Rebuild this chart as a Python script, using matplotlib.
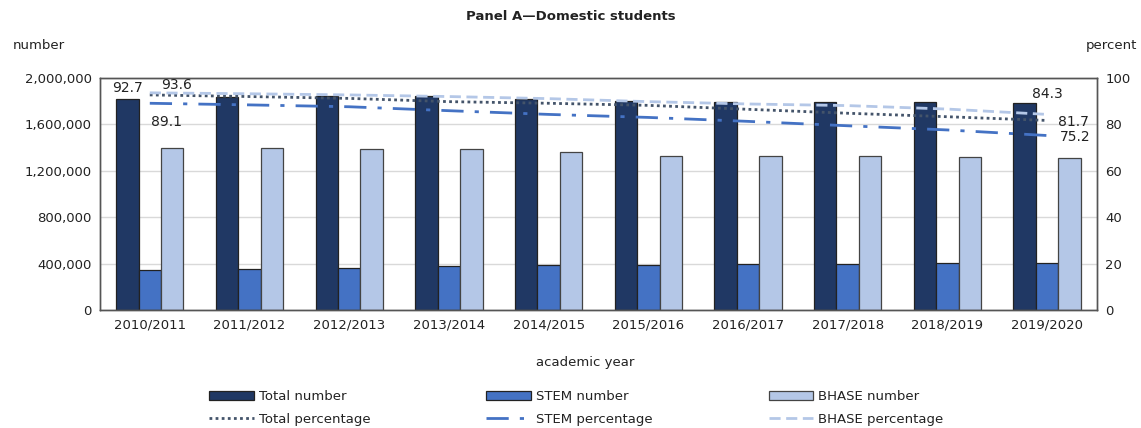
import matplotlib
matplotlib.use("Agg")
import matplotlib.pyplot as plt
import numpy as np
from matplotlib.ticker import FuncFormatter

years = ["2010/2011", "2011/2012", "2012/2013", "2013/2014", "2014/2015",
         "2015/2016", "2016/2017", "2017/2018", "2018/2019", "2019/2020"]
total_number = [1819000, 1833000, 1845000, 1847000, 1819000,
                1799000, 1795000, 1796000, 1789000, 1782000]
stem_number = [343000, 354000, 366000, 377000, 388000,
               388000, 397000, 397000, 408000, 408000]
bhase_number = [1400000, 1400000, 1388000, 1388000, 1359000,
                1330000, 1330000, 1330000, 1319000, 1308000]
total_pct = [92.7, 92.0, 91.2, 89.8, 89.1, 88.2, 86.5, 84.8, 83.3, 81.7]
stem_pct = [89.1, 88.4, 87.6, 85.9, 84.3, 83.0, 81.3, 79.4, 77.6, 75.2]
bhase_pct = [93.6, 93.2, 92.7, 92.0, 91.1, 89.8, 88.8, 88.1, 86.6, 84.3]

c_total = "#203864"
c_stem = "#4472C4"
c_bhase = "#B4C7E7"
c_total_line = "#44546A"
text_c = "#222222"

plt.rcParams['font.family'] = ['DejaVu Sans']
fig = plt.figure(figsize=(11.41, 4.28), dpi=100)
ax = fig.add_axes([0.0876, 0.2757, 0.8738, 0.5421])
ax2 = ax.twinx()

x = np.arange(len(years))
w = 0.225
edge = "#222222"
b1 = ax.bar(x - w, total_number, w, color=c_total, edgecolor=edge, linewidth=0.9, label="Total number", zorder=2)
b2 = ax.bar(x, stem_number, w, color=c_stem, edgecolor=edge, linewidth=0.9, label="STEM number", zorder=2)
b3 = ax.bar(x + w, bhase_number, w, color=c_bhase, edgecolor="#444444", linewidth=0.9, label="BHASE number", zorder=2)

l1, = ax2.plot(x, total_pct, color=c_total_line, linestyle=(0, (1, 1.2)), linewidth=2, label="Total percentage")
l2, = ax2.plot(x, stem_pct, color=c_stem, linestyle=(0, (8, 4, 1.5, 4)), linewidth=2, label="STEM percentage")
l3, = ax2.plot(x, bhase_pct, color=c_bhase, linestyle=(0, (4, 2)), linewidth=2, label="BHASE percentage")

ax.set_xlim(-0.5, len(years) - 0.5)
ax.set_ylim(0, 2000000)
ax.set_yticks(np.arange(0, 2000001, 400000))
ax.yaxis.set_major_formatter(FuncFormatter(lambda v, p: f"{int(v):,}"))
ax2.set_ylim(0, 100)
ax2.set_yticks(np.arange(0, 101, 20))
ax.set_xticks(x)
ax.set_xticklabels(years)
ax.grid(axis="y", color="#d9d9d9", linewidth=1, zorder=0)
ax.set_axisbelow(True)
for a in (ax, ax2):
    for s in a.spines.values():
        s.set_color("#555555")
        s.set_linewidth(1)
    a.tick_params(length=0, labelsize=9.5, colors=text_c, pad=6)
ax.set_zorder(ax2.get_zorder() - 1)
ax2.patch.set_visible(False)
ax.patch.set_visible(True)

ax.set_xlabel("academic year", fontsize=9.5, color=text_c)
ax.xaxis.set_label_coords(0.487, -0.2)

fs = 10
def px(v):
    return v * 72 / 100.0

ax2.annotate(f"{total_pct[0]}", (x[0], total_pct[0]), xytext=(px(-22), px(7)), textcoords="offset points", fontsize=fs, color=text_c, ha="center", va="center")
ax2.annotate(f"{bhase_pct[0]}", (x[0], bhase_pct[0]), xytext=(px(27), px(8)), textcoords="offset points", fontsize=fs, color=text_c, ha="center", va="center")
ax2.annotate(f"{stem_pct[0]}", (x[0], stem_pct[0]), xytext=(px(17), px(-19)), textcoords="offset points", fontsize=fs, color=text_c, ha="center", va="center")
ax2.annotate(f"{bhase_pct[-1]}", (x[-1], bhase_pct[-1]), xytext=(px(0), px(20)), textcoords="offset points", fontsize=fs, color=text_c, ha="center", va="center")
ax2.annotate(f"{total_pct[-1]}", (x[-1], total_pct[-1]), xytext=(px(26), px(-2)), textcoords="offset points", fontsize=fs, color=text_c, ha="center", va="center")
ax2.annotate(f"{stem_pct[-1]}", (x[-1], stem_pct[-1]), xytext=(px(28), px(-1)), textcoords="offset points", fontsize=fs, color=text_c, ha="center", va="center")

fig.text(0.5, 0.962, "Panel A\u2014Domestic students", ha="center", va="center", fontsize=9.5, fontweight="bold", color=text_c)
fig.text(0.011, 0.893, "number", ha="left", va="center", fontsize=9.5, color=text_c)
fig.text(0.997, 0.893, "percent", ha="right", va="center", fontsize=9.5, color=text_c)

handles = [b1, l1, b2, l2, b3, l3]
fig.legend(handles=handles, loc="center", bbox_to_anchor=(0.505, 0.0467), ncol=3, frameon=False,
           fontsize=9.5, handlelength=3.4, handleheight=0.6, columnspacing=8.8, labelspacing=0.73,
           handletextpad=0.35, labelcolor=text_c, borderpad=0)

fig.savefig("out.png", dpi=100)
